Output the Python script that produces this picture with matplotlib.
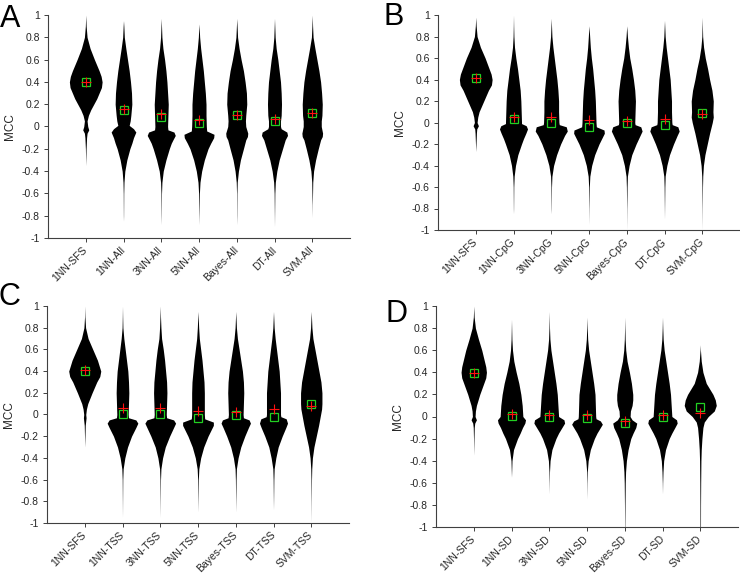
import numpy as np
import matplotlib.pyplot as plt

plt.rcParams['font.family'] = ['Liberation Sans', 'DejaVu Sans']
plt.rcParams['axes.unicode_minus'] = False

# violin outlines: (MCC value, half width, 113 = one category step)
methods = ['1NN', '3NN', '5NN', 'Bayes', 'DT', 'SVM']

labels_a = ['1NN-SFS'] + [m + '-All' for m in methods]
means_a = [0.40, 0.157, 0.11, 0.06, 0.106, 0.067, 0.124]
medians_a = [0.40, 0.145, 0.088, 0.031, 0.106, 0.046, 0.12]
shapes_a = [
    [(1.0, 0), (0.9, 1.2), (0.8, 4), (0.7, 13), (0.6, 26), (0.5, 40), (0.45, 46), (0.4, 49), (0.35, 47),
     (0.3, 40), (0.25, 33), (0.2, 24), (0.15, 15), (0.1, 8), (0.05, 4), (0.0, 6), (-0.03, 9), (-0.06, 4),
     (-0.1, 2.5), (-0.2, 1), (-0.35, 0)],
    [(0.95, 0), (0.9, 1), (0.8, 2.5), (0.7, 7), (0.6, 12), (0.5, 17), (0.4, 21), (0.3, 24), (0.2, 25),
     (0.1, 22), (0.05, 20), (0.01, 17), (-0.02, 30), (-0.05, 37), (-0.1, 30), (-0.15, 25), (-0.2, 19),
     (-0.3, 10), (-0.4, 4), (-0.5, 1.5), (-0.6, 0.7), (-0.8, 0.3), (-0.85, 0)],
    [(0.97, 0), (0.9, 0.8), (0.8, 2), (0.7, 5), (0.6, 10), (0.5, 14), (0.4, 17), (0.3, 19), (0.2, 21),
     (0.1, 20), (0.0, 19), (-0.03, 20), (-0.05, 38), (-0.08, 42), (-0.12, 35), (-0.15, 30), (-0.2, 24),
     (-0.3, 14), (-0.4, 6), (-0.5, 2), (-0.6, 0.8), (-0.8, 0.3), (-0.88, 0)],
    [(0.92, 0), (0.8, 2), (0.7, 5), (0.6, 9), (0.5, 13), (0.4, 16), (0.3, 19), (0.2, 21), (0.1, 21),
     (0.0, 22), (-0.04, 23), (-0.07, 45), (-0.1, 44), (-0.15, 35), (-0.2, 27), (-0.3, 16), (-0.4, 8),
     (-0.5, 3), (-0.6, 1.2), (-0.8, 0.3), (-0.88, 0)],
    [(0.97, 0), (0.9, 1), (0.8, 2.5), (0.7, 7), (0.6, 13), (0.5, 20), (0.4, 25), (0.3, 29), (0.2, 30),
     (0.1, 27), (0.05, 26), (0.0, 27), (-0.03, 30), (-0.06, 33), (-0.09, 32), (-0.12, 27), (-0.2, 20),
     (-0.3, 11), (-0.4, 5), (-0.5, 1.5), (-0.6, 0.6), (-0.8, 0.3), (-0.88, 0)],
    [(0.97, 0), (0.9, 0.8), (0.8, 2), (0.7, 5), (0.6, 10), (0.5, 14), (0.4, 18), (0.3, 20), (0.2, 21),
     (0.1, 20), (0.05, 18), (0.0, 18), (-0.02, 20), (-0.05, 37), (-0.08, 39), (-0.12, 32), (-0.2, 24),
     (-0.3, 14), (-0.4, 7), (-0.5, 2.5), (-0.6, 1), (-0.8, 0.3), (-0.9, 0)],
    [(1.0, 0), (0.9, 1), (0.8, 2.5), (0.7, 8), (0.6, 14), (0.5, 20), (0.4, 25), (0.3, 28), (0.2, 30),
     (0.1, 29), (0.05, 27), (0.0, 27), (-0.03, 29), (-0.06, 31), (-0.09, 30), (-0.12, 25), (-0.2, 18),
     (-0.3, 10), (-0.4, 4), (-0.5, 1.5), (-0.7, 0.3), (-0.82, 0)],
]

labels_b = ['1NN-SFS'] + [m + '-CpG' for m in methods]
means_b = [0.41, 0.048, 0.048, 0.023, 0.014, 0.03, 0.076]
medians_b = [0.41, 0.033, -0.005, -0.04, -0.002, -0.023, 0.088]
shapes_b = [
    [(0.98, 0), (0.9, 1.2), (0.8, 4), (0.7, 14), (0.6, 28), (0.5, 40), (0.45, 46), (0.4, 49), (0.35, 47),
     (0.3, 38), (0.2, 24), (0.1, 10), (0.05, 6), (0.0, 4), (-0.03, 8), (-0.06, 3), (-0.1, 2),
     (-0.2, 0.8), (-0.27, 0)],
    [(1.0, 0), (0.9, 0.5), (0.8, 1.2), (0.7, 3), (0.6, 7), (0.5, 12), (0.4, 16), (0.3, 20), (0.2, 22),
     (0.1, 23), (0.0, 24), (-0.01, 24), (-0.03, 38), (-0.06, 42), (-0.1, 37), (-0.15, 30), (-0.2, 24),
     (-0.3, 13), (-0.4, 6), (-0.5, 2), (-0.6, 0.8), (-0.8, 0.3), (-0.85, 0)],
    [(0.97, 0), (0.9, 0.8), (0.8, 2), (0.7, 5), (0.6, 9), (0.5, 13), (0.4, 17), (0.3, 20), (0.2, 22),
     (0.1, 22), (0.0, 23), (-0.02, 24), (-0.04, 45), (-0.08, 48), (-0.12, 40), (-0.2, 28), (-0.3, 16),
     (-0.4, 7), (-0.5, 2), (-0.6, 0.8), (-0.8, 0.3), (-0.85, 0)],
    [(0.9, 0), (0.8, 2), (0.7, 4), (0.6, 7), (0.5, 11), (0.4, 14), (0.3, 17), (0.2, 19), (0.1, 20),
     (0.0, 21), (-0.04, 22), (-0.07, 45), (-0.1, 46), (-0.15, 38), (-0.2, 30), (-0.3, 17), (-0.4, 8),
     (-0.5, 2.5), (-0.6, 1), (-0.8, 0.3), (-0.95, 0)],
    [(0.9, 0), (0.8, 2), (0.7, 5), (0.6, 9), (0.5, 15), (0.4, 20), (0.3, 24), (0.2, 26), (0.1, 25),
     (0.0, 24), (-0.02, 25), (-0.04, 42), (-0.08, 46), (-0.12, 40), (-0.2, 28), (-0.3, 15), (-0.4, 7),
     (-0.5, 2), (-0.6, 1), (-0.8, 0.3), (-1.0, 0)],
    [(0.95, 0), (0.8, 2), (0.7, 5), (0.6, 9), (0.5, 13), (0.4, 17), (0.3, 19), (0.2, 21), (0.1, 21),
     (0.0, 22), (-0.02, 23), (-0.04, 40), (-0.08, 44), (-0.12, 38), (-0.2, 27), (-0.3, 15), (-0.4, 7),
     (-0.5, 2), (-0.6, 1), (-0.8, 0.3), (-0.9, 0)],
    [(0.98, 0), (0.9, 0.5), (0.8, 1.2), (0.7, 4), (0.6, 9), (0.5, 16), (0.4, 22), (0.3, 29), (0.2, 33),
     (0.1, 32), (0.05, 33), (0.0, 30), (-0.05, 26), (-0.1, 22), (-0.2, 15), (-0.3, 8), (-0.4, 3.5),
     (-0.5, 1.5), (-0.6, 0.8), (-0.8, 0.3), (-1.0, 0)],
]

labels_c = ['1NN-SFS'] + [m + '-TSS' for m in methods]
means_c = [0.407, 0.057, 0.057, 0.035, 0.023, 0.048, 0.081]
medians_c = [0.404, 0.008, 0.008, -0.03, -0.005, -0.02, 0.094]
shapes_c = [
    [(1.0, 0), (0.9, 0.6), (0.8, 2.5), (0.7, 10), (0.6, 24), (0.5, 38), (0.4, 48), (0.35, 45), (0.3, 36),
     (0.2, 22), (0.1, 9), (0.05, 5), (0.0, 3), (-0.03, 4), (-0.1, 1.5), (-0.2, 0.7), (-0.3, 0)],
    [(1.0, 0), (0.9, 0.5), (0.8, 1.2), (0.7, 4), (0.6, 8), (0.5, 12), (0.4, 16), (0.3, 18), (0.2, 19),
     (0.1, 18), (0.0, 17), (-0.03, 18), (-0.05, 40), (-0.08, 46), (-0.12, 40), (-0.2, 27), (-0.3, 15),
     (-0.4, 7), (-0.5, 2), (-0.6, 0.8), (-0.8, 0.3), (-0.95, 0)],
    [(1.0, 0), (0.9, 0.8), (0.8, 2), (0.7, 4), (0.6, 9), (0.5, 13), (0.4, 16), (0.3, 19), (0.2, 20),
     (0.1, 19), (0.0, 18), (-0.03, 19), (-0.05, 40), (-0.08, 46), (-0.12, 40), (-0.2, 28), (-0.3, 15),
     (-0.4, 7), (-0.5, 2), (-0.6, 0.8), (-0.8, 0.3), (-0.95, 0)],
    [(0.95, 0), (0.8, 2), (0.7, 4), (0.6, 8), (0.5, 12), (0.4, 15), (0.3, 18), (0.2, 19), (0.1, 19),
     (0.0, 19), (-0.04, 20), (-0.07, 46), (-0.1, 46), (-0.15, 38), (-0.2, 30), (-0.3, 17), (-0.4, 8),
     (-0.5, 2.5), (-0.6, 1), (-0.8, 0.3), (-0.9, 0)],
    [(0.95, 0), (0.8, 2), (0.7, 5), (0.6, 10), (0.5, 15), (0.4, 20), (0.3, 23), (0.2, 24), (0.1, 23),
     (0.0, 22), (-0.03, 23), (-0.05, 40), (-0.08, 44), (-0.12, 38), (-0.2, 27), (-0.3, 15), (-0.4, 7),
     (-0.5, 2), (-0.6, 1), (-0.8, 0.3), (-0.9, 0)],
    [(0.95, 0), (0.8, 2), (0.7, 5), (0.6, 9), (0.5, 13), (0.4, 17), (0.3, 19), (0.2, 21), (0.1, 21),
     (0.0, 21), (-0.02, 22), (-0.04, 38), (-0.08, 42), (-0.12, 37), (-0.2, 26), (-0.3, 14), (-0.4, 7),
     (-0.5, 2), (-0.6, 1), (-0.8, 0.3), (-0.88, 0)],
    [(0.95, 0), (0.8, 2), (0.7, 5), (0.6, 11), (0.5, 17), (0.4, 23), (0.3, 29), (0.2, 32), (0.1, 32),
     (0.05, 31), (0.0, 28), (-0.1, 22), (-0.2, 15), (-0.3, 8), (-0.4, 3.5), (-0.5, 1.5), (-0.6, 0.8),
     (-0.8, 0.3), (-1.0, 0)],
]

labels_d = ['1NN-SFS'] + [m + '-SD' for m in methods]
means_d = [0.397, 0.023, 0.014, 0.014, -0.038, 0.014, 0.029]
medians_d = [0.397, 0.008, 0.0, -0.01, -0.056, 0.0, 0.089]
shapes_d = [
    [(1.0, 0), (0.9, 1.2), (0.8, 5), (0.7, 14), (0.6, 24), (0.5, 32), (0.45, 36), (0.4, 38), (0.35, 36),
     (0.3, 30), (0.2, 18), (0.1, 8), (0.05, 5), (0.0, 4), (-0.03, 8), (-0.06, 3), (-0.1, 1.5), (-0.2, 0.7),
     (-0.35, 0)],
    [(0.88, 0), (0.8, 0.5), (0.7, 1.2), (0.6, 3), (0.5, 7), (0.4, 14), (0.3, 22), (0.2, 28), (0.1, 32),
     (0.05, 33), (0.0, 34), (-0.03, 42), (-0.06, 40), (-0.1, 33), (-0.15, 26), (-0.2, 18), (-0.3, 6),
     (-0.4, 1.5), (-0.5, 0.5), (-0.55, 0)],
    [(0.95, 0), (0.8, 0.8), (0.7, 2), (0.6, 5), (0.5, 10), (0.4, 15), (0.3, 20), (0.2, 24), (0.1, 26),
     (0.05, 27), (0.0, 28), (-0.03, 44), (-0.06, 46), (-0.1, 38), (-0.15, 28), (-0.2, 20), (-0.3, 8),
     (-0.4, 2.5), (-0.5, 0.8), (-0.6, 0.3), (-0.7, 0)],
    [(0.9, 0), (0.8, 0.8), (0.7, 2), (0.6, 5), (0.5, 10), (0.4, 15), (0.3, 20), (0.2, 24), (0.1, 25),
     (0.0, 26), (-0.02, 27), (-0.04, 40), (-0.07, 46), (-0.1, 40), (-0.15, 30), (-0.2, 22), (-0.3, 10),
     (-0.4, 3.5), (-0.5, 1), (-0.6, 0.4), (-0.75, 0)],
    [(0.9, 0), (0.8, 0.5), (0.7, 1.2), (0.6, 3), (0.5, 7), (0.4, 14), (0.3, 20), (0.2, 24), (0.15, 24),
     (0.1, 22), (0.05, 17), (0.0, 16), (-0.03, 22), (-0.06, 36), (-0.1, 33), (-0.15, 25), (-0.2, 18),
     (-0.3, 10), (-0.4, 5), (-0.5, 2.5), (-0.6, 1.5), (-0.8, 0.8), (-1.0, 0.4)],
    [(0.9, 0), (0.8, 0.8), (0.7, 2), (0.6, 5), (0.5, 10), (0.4, 15), (0.3, 20), (0.2, 24), (0.1, 26),
     (0.05, 27), (0.0, 28), (-0.03, 42), (-0.06, 44), (-0.1, 37), (-0.15, 28), (-0.2, 20), (-0.3, 9),
     (-0.4, 3.5), (-0.5, 1.5), (-0.6, 0.5), (-0.7, 0)],
    [(0.65, 0), (0.6, 0.6), (0.5, 3), (0.4, 8), (0.3, 18), (0.25, 28), (0.2, 38), (0.15, 45), (0.1, 48),
     (0.05, 42), (0.0, 24), (-0.05, 12), (-0.1, 8), (-0.2, 5), (-0.3, 3), (-0.4, 2), (-0.6, 1.3),
     (-0.8, 0.9), (-1.0, 0.8)],
]

W, H = 740, 574
axis_col = '#404040'
text_col = '#262626'


def draw_panel(rect_px, letter, letter_xy, labels, shapes, means, medians):
    l, r, t, b = rect_px
    ax = fig.add_axes([l / W, 1 - b / H, (r - l) / W, (b - t) / H])
    for i, shape in enumerate(shapes):
        ys = np.array([p[0] for p in shape])
        hw = np.array([p[1] for p in shape]) / 113.0
        ax.fill_betweenx(ys, i + 1 - hw, i + 1 + hw, color='k', lw=0)
    xs = np.arange(1, len(labels) + 1)
    ax.plot(xs, medians, 's', mfc='none', mec='#22d022', ms=6, mew=0.9)
    ax.plot(xs, means, '+', color='#ff1010', ms=7, mew=0.8)

    ax.set_xlim(0, 8)
    ax.set_ylim(-1, 1)
    yt = np.round(np.arange(-1, 1.01, 0.2), 1) + 0.0
    ax.set_yticks(yt)
    ax.set_yticklabels(['%g' % v if abs(v) > 1e-9 else '0' for v in yt])
    ax.set_xticks(xs)
    ax.set_xticklabels(labels, rotation=45, ha='right', va='center', rotation_mode='anchor')
    ax.tick_params(direction='out', length=3, width=0.7, colors=axis_col, labelcolor=text_col,
                   labelsize=7.5, pad=3)
    ax.tick_params(axis='x', pad=4.5)
    for s in ['top', 'right']:
        ax.spines[s].set_visible(False)
    for s in ['left', 'bottom']:
        ax.spines[s].set_color(axis_col)
        ax.spines[s].set_linewidth(0.8)
    ax.set_ylabel('MCC', fontsize=8.5, color=text_col)
    ax.yaxis.set_label_coords(-32.0 / (r - l), 0.5)
    fig.text(letter_xy[0] / W, 1 - letter_xy[1] / H, letter, fontsize=22, va='baseline', ha='left')
    return ax


fig = plt.figure(figsize=(W / 100, H / 100), dpi=100)
draw_panel((48, 350, 15, 238), 'A', (0, 27), labels_a, shapes_a, means_a, medians_a)
draw_panel((438, 740, 15, 230), 'B', (383, 25), labels_b, shapes_b, means_b, medians_b)
draw_panel((47, 349, 306, 523), 'C', (-1, 305), labels_c, shapes_c, means_c, medians_c)
draw_panel((436, 738, 306, 527), 'D', (385, 322), labels_d, shapes_d, means_d, medians_d)

fig.savefig('out.png', dpi=100)
